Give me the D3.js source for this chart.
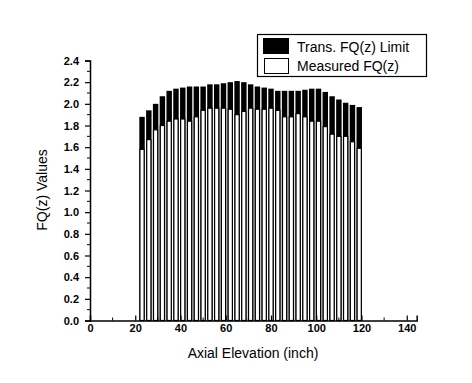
<!DOCTYPE html>
<html>
<head>
<meta charset="utf-8">
<script src="https://cdn.jsdelivr.net/npm/d3@7"></script>
<style>
  body { margin: 0; background: #fff; }
  svg { display: block; font-family: "Liberation Sans", Arial, sans-serif; }
</style>
</head>
<body>
<div id="chart"></div>
<script>
// axial elevation of each measurement (inch)
const elevation = [23, 26, 29, 32, 35, 38, 41, 44, 47, 50, 53, 56, 59, 62, 65, 68, 71,
  74, 77, 80, 83, 86, 89, 92, 95, 98, 101, 104, 107, 110, 113, 116, 119];

// transient FQ(z) limit (black bars)
const limitFQ = [1.88, 1.94, 2.00, 2.07, 2.12, 2.14, 2.15, 2.16, 2.16, 2.16, 2.18, 2.18, 2.19,
  2.20, 2.21, 2.20, 2.18, 2.16, 2.15, 2.14, 2.12, 2.12, 2.12, 2.12, 2.13, 2.14, 2.14,
  2.11, 2.07, 2.04, 2.01, 1.99, 1.97];

// measured FQ(z) (white bars)
const measuredFQ = [1.58, 1.67, 1.76, 1.80, 1.84, 1.86, 1.86, 1.84, 1.88, 1.94, 1.96, 1.96, 1.96,
  1.95, 1.90, 1.93, 1.96, 1.95, 1.95, 1.96, 1.94, 1.88, 1.88, 1.91, 1.88, 1.84, 1.84,
  1.79, 1.72, 1.70, 1.70, 1.65, 1.59];

const xTicks = [0, 20, 40, 60, 80, 100, 120, 140];
const yTicks = [0, 0.2, 0.4, 0.6, 0.8, 1.0, 1.2, 1.4, 1.6, 1.8, 2.0, 2.2, 2.4];
const legendLabels = ['Trans. FQ(z) Limit', 'Measured FQ(z)'];

const W = 472, H = 383;
const svg = d3.select('#chart').append('svg')
  .attr('width', W)
  .attr('height', H);

const xScale = d3.scaleLinear().domain([0, 144.4]).range([90, 416.7]);
const yScale = d3.scaleLinear().domain([0, 2.4]).range([320.5, 60.5]);

const barW = xScale(2.4) - xScale(0);

// black limit bars, white measured bars on top
svg.append('g').selectAll('rect')
  .data(elevation)
  .join('rect')
  .attr('x', (d) => xScale(d) - barW / 2)
  .attr('width', barW)
  .attr('y', (d, i) => yScale(limitFQ[i]))
  .attr('height', (d, i) => yScale(0) - yScale(limitFQ[i]))
  .attr('fill', '#000');

svg.append('g').selectAll('rect')
  .data(elevation)
  .join('rect')
  .attr('x', (d) => xScale(d) - barW / 2 + 0.6)
  .attr('width', barW - 1.2)
  .attr('y', (d, i) => yScale(measuredFQ[i]))
  .attr('height', (d, i) => yScale(0) - yScale(measuredFQ[i]))
  .attr('fill', '#fff')
  .attr('stroke', '#000')
  .attr('stroke-width', 1.2);

// axes
const xAxis = d3.axisBottom(xScale)
  .tickValues(xTicks)
  .tickFormat(d3.format('d'))
  .tickSize(-5)
  .tickPadding(4);
const gx = svg.append('g')
  .attr('transform', `translate(0,${yScale(0)})`)
  .call(xAxis);

const yAxis = d3.axisLeft(yScale)
  .tickValues(yTicks)
  .tickFormat(d3.format('.1f'))
  .tickSize(5)
  .tickPadding(6);
const gy = svg.append('g')
  .attr('transform', `translate(${xScale(0)},0)`)
  .call(yAxis);

// minor ticks
gx.selectAll('.minor')
  .data(xTicks.slice(0, -1).map((d) => d + 10))
  .join('line')
  .attr('class', 'minor')
  .attr('x1', (d) => xScale(d)).attr('x2', (d) => xScale(d))
  .attr('y1', 0).attr('y2', -3)
  .attr('stroke', '#000');
gy.selectAll('.minor')
  .data(yTicks.slice(0, -1).map((d) => d + 0.1))
  .join('line')
  .attr('class', 'minor')
  .attr('y1', (d) => yScale(d)).attr('y2', (d) => yScale(d))
  .attr('x1', 0).attr('x2', -3)
  .attr('stroke', '#000');

[gx, gy].forEach((g) => {
  g.select('.domain').attr('stroke-width', 1.5).attr('stroke', '#000');
  g.selectAll('.tick line').attr('stroke', '#000').attr('stroke-width', 1.2);
  g.selectAll('.tick text')
    .attr('fill', '#000')
    .attr('font-size', 11)
    .attr('font-weight', 'bold')
    .attr('font-family', '"Liberation Sans", Arial, sans-serif');
});

// axis titles
svg.append('text')
  .attr('x', 253).attr('y', 358)
  .attr('text-anchor', 'middle')
  .attr('font-size', 14)
  .text('Axial Elevation (inch)');

svg.append('text')
  .attr('transform', 'translate(47,190) rotate(-90)')
  .attr('text-anchor', 'middle')
  .attr('font-size', 14)
  .text('FQ(z) Values');

// legend
const legend = svg.append('g');
legend.append('rect')
  .attr('x', 257.5).attr('y', 34.5)
  .attr('width', 169).attr('height', 42)
  .attr('fill', '#fff').attr('stroke', '#000').attr('stroke-width', 1.2);
legend.append('rect')
  .attr('x', 263).attr('y', 38)
  .attr('width', 26).attr('height', 16)
  .attr('fill', '#000');
legend.append('rect')
  .attr('x', 264.5).attr('y', 58.5)
  .attr('width', 24).attr('height', 15)
  .attr('fill', '#fff').attr('stroke', '#000');
legend.selectAll('.lbl')
  .data(legendLabels)
  .join('text')
  .attr('class', 'lbl')
  .attr('x', 297)
  .attr('y', (d, i) => 52 + i * 19)
  .attr('font-size', 14)
  .text((d) => d);
</script>
</body>
</html>
